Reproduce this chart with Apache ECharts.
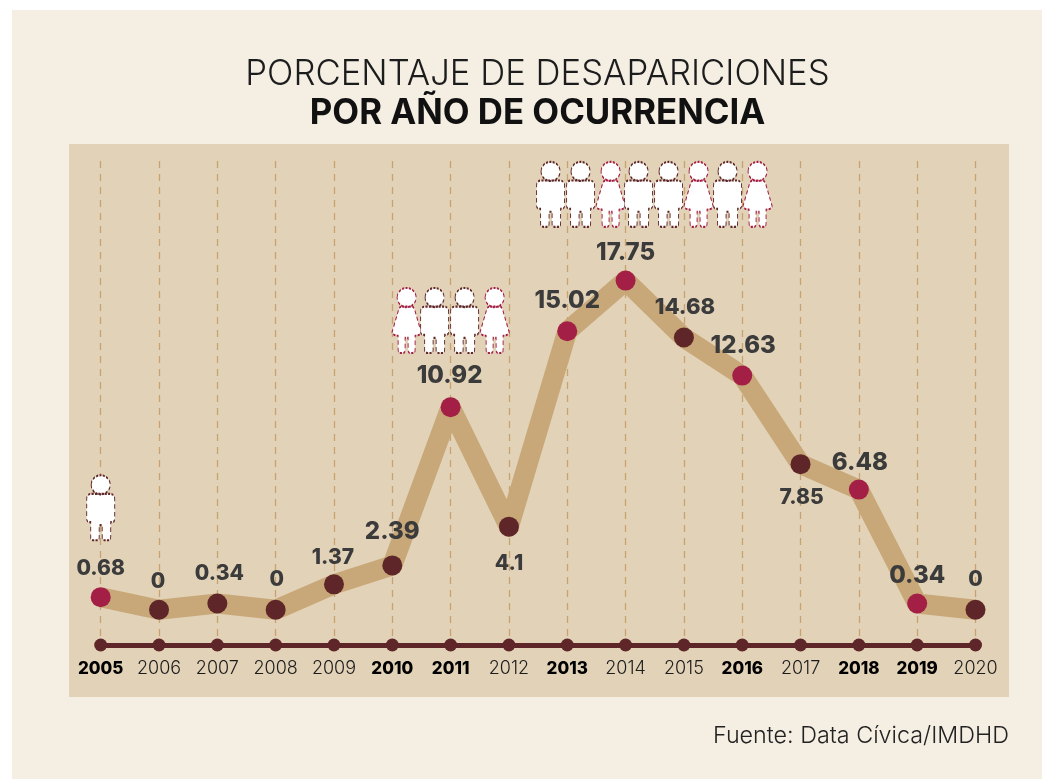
<!DOCTYPE html>
<html>
<head>
<meta charset="utf-8">
<style>
  html, body { margin: 0; padding: 0; background: #fff; }
  #chart { width: 1042px; height: 779px; }
</style>
</head>
<body>
<div id="chart"></div>
<script src="https://cdn.jsdelivr.net/npm/echarts@6/dist/echarts.min.js"></script>
<script>
const years = ['2005','2006','2007','2008','2009','2010','2011','2012','2013','2014','2015','2016','2017','2018','2019','2020']
// height of each point as drawn; 2012 sits a little above its printed 4.1 in the original
const pointValues = [0.68, 0, 0.34, 0, 1.37, 2.39, 10.92, 4.48, 15.02, 17.75, 14.68, 12.63, 7.85, 6.48, 0.34, 0]
const printedValues = ['0.68','0','0.34','0','1.37','2.39','10.92','4.1','15.02','17.75','14.68','12.63','7.85','6.48','0.34','0']
const redYears = ['2005','2011','2013','2014','2016','2018','2019']
const boldYears = ['2005','2010','2011','2013','2016','2018','2019']
const figures2005 = ['m']
const figures2011 = ['f','m','m','f']
const figures2014 = ['m','m','f','m','m','f','m','f']

// label layout per year: dx, dy from the point, font size
const labelLayout = [
  [0,-28,21],[-1,-28,21],[2,-30,21],[1,-30,21],[-1,-27,21],[0,-34,24],
  [-1,-31,24],[0,37,21],[0,-30,24],[0,-28,24],[1,-30,22],[1,-30,24],
  [1,33,21],[1,-27,24],[0,-28,24],[0,-30,21]
]

const RED = '#a31f45'
const DARK = '#5e2628'
const FONT = 'Inter, "Noto Sans", sans-serif'
const maleIcon = 'path://M4.5 10a9.5 9.5 0 1 1 19 0a9.5 9.5 0 1 1-19 0ZM5 19L23 19Q28 19 28 24L28 44Q28 47 25 47L24 47L24 62Q24 65 21 65L18 65Q15.5 65 15.5 62L15.5 50L12.5 50L12.5 62Q12.5 65 10 65L7 65Q4 65 4 62L4 47L3 47Q0 47 0 44L0 24Q0 19 5 19Z'
const femaleIcon = 'path://M5 10a9.5 9.5 0 1 1 19 0a9.5 9.5 0 1 1-19 0ZM10 19L19 19Q22 19 22.5 22L29 44Q29.3 46 27 47L23 48L23 62Q23 65 20 65L18 65Q16 65 16 62L16 50L13 50L13 62Q13 65 11 65L9 65Q6 65 6 62L6 48L2 47Q-.3 46 0 44L6.5 22Q7 19 10 19Z'

const Y_MIN = -1.9
const Y_MAX = 24.2

function figureItems(year, level, kinds, offsets) {
  return kinds.map((k, i) => ({
    value: [year, level],
    symbol: k === 'm' ? maleIcon : femaleIcon,
    symbolSize: [k === 'm' ? 28 : 29, 65],
    symbolOffset: [offsets[i], 0],
    itemStyle: { color: '#fff', opacity: 1, borderColor: k === 'm' ? DARK : RED, borderWidth: 1.4, borderType: [3, 2] }
  }))
}

const chart = echarts.init(document.getElementById('chart'))
chart.setOption({
  animation: false,
  textStyle: { fontFamily: FONT },
  graphic: [
    { type: 'rect', z: -2, shape: { x: 12, y: 10, width: 1030, height: 769 }, style: { fill: '#f4eee3' } },
    { type: 'rect', z: -1, shape: { x: 69, y: 144, width: 940, height: 553 }, style: { fill: '#e2d2b8' } }
  ],
  title: [
    { text: 'PORCENTAJE DE DESAPARICIONES', left: 532.5, top: 52, textAlign: 'center',
      textStyle: { fontFamily: FONT, fontSize: 34.7, fontWeight: 300, color: '#1c1c1c' } },
    { text: 'POR AÑO DE OCURRENCIA', left: 532.5, top: 91, textAlign: 'center',
      textStyle: { fontFamily: FONT, fontSize: 34.8, fontWeight: 700, color: '#111' } },
    { text: 'Fuente: Data Cívica/IMDHD', left: 1004, top: 719, textAlign: 'right',
      textStyle: { fontFamily: FONT, fontSize: 23.3, fontWeight: 300, color: '#222' } }
  ],
  grid: { left: 100.7, right: 66.5, top: 161, bottom: 134 },
  xAxis: {
    type: 'category',
    data: years,
    boundaryGap: false,
    axisLine: { onZero: false, lineStyle: { color: DARK, width: 5 } },
    axisTick: { show: false },
    splitLine: { show: true, lineStyle: { color: '#c9a36f', width: 1.3, type: [7, 6] } },
    axisLabel: {
      interval: 0,
      margin: 15,
      formatter: y => boldYears.includes(y) ? `{b|${y}}` : `{n|${y}}`,
      rich: {
        b: { fontFamily: FONT, fontSize: 17, fontWeight: 800, color: '#000' },
        n: { fontFamily: FONT, fontSize: 18, fontWeight: 300, color: '#1c1c1c' }
      }
    }
  },
  yAxis: { type: 'value', min: Y_MIN, max: Y_MAX, show: false, splitLine: { show: false } },
  series: [
    {
      type: 'scatter',
      clip: false,
      z: 3,
      symbolSize: 13,
      itemStyle: { color: DARK, opacity: 1 },
      data: years.map(y => [y, Y_MIN])
    },
    {
      type: 'line',
      clip: false,
      z: 4,
      data: pointValues.map((v, i) => ({
        value: v,
        itemStyle: { color: redYears.includes(years[i]) ? RED : DARK },
        label: {
          show: true,
          position: 'inside',
          formatter: printedValues[i],
          offset: [labelLayout[i][0], labelLayout[i][1]],
          fontFamily: FONT,
          fontSize: labelLayout[i][2],
          fontWeight: 800,
          color: '#3b3b3b'
        }
      })),
      symbol: 'circle',
      symbolSize: 20,
      showAllSymbol: true,
      lineStyle: { color: '#c8a878', width: 20, join: 'round', cap: 'butt' }
    },
    {
      type: 'scatter',
      clip: false,
      z: 5,
      data: [
        ...figureItems('2005', 5.5, figures2005, [0]),
        ...figureItems('2011', 15.6, figures2011, [-44, -16, 14, 44]),
        ...figureItems('2014', 22.4, figures2014, [-75, -45, -15, 13, 43, 73, 102, 132])
      ]
    }
  ]
})
</script>
</body>
</html>
